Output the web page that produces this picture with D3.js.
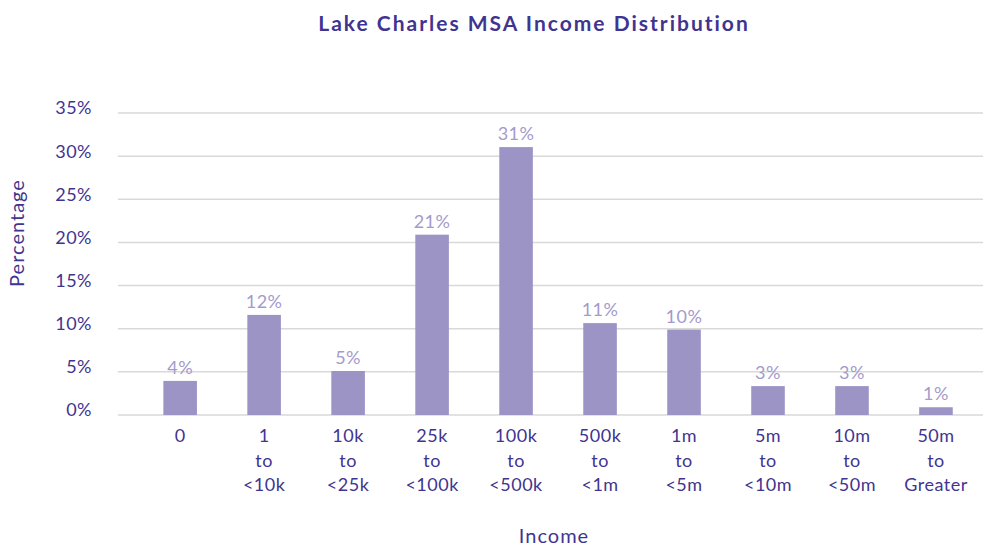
<!DOCTYPE html>
<html>
<head>
<meta charset="utf-8">
<script src="https://cdn.jsdelivr.net/npm/d3@7"></script>
<style>
  html, body { margin: 0; padding: 0; background: #fff; }
  svg { display: block; font-family: Lato, "Noto Sans", sans-serif; }
</style>
</head>
<body>
<svg id="chart" width="983" height="546"></svg>
<script>
const title = "Lake Charles MSA Income Distribution";
const categories = [
  ["0"],
  ["1", "to", "<10k"],
  ["10k", "to", "<25k"],
  ["25k", "to", "<100k"],
  ["100k", "to", "<500k"],
  ["500k", "to", "<1m"],
  ["1m", "to", "<5m"],
  ["5m", "to", "<10m"],
  ["10m", "to", "<50m"],
  ["50m", "to", "Greater"]
];
const values = [3.95, 11.6, 5.1, 20.9, 31.05, 10.65, 9.9, 3.35, 3.35, 0.9];
const dataLabels = ["4%", "12%", "5%", "21%", "31%", "11%", "10%", "3%", "3%", "1%"];
const yTicks = [0, 5, 10, 15, 20, 25, 30, 35];
const xTitle = "Income";
const yTitle = "Percentage";

const svg = d3.select("#chart");
const W = 983, H = 546;
const margin = {left: 118, right: 0, top: 113, bottom: 131};
const plotLeft = margin.left, plotRight = W - margin.right;
const plotTop = margin.top, plotBottom = H - margin.bottom;

const keys = categories.map(c => c.join(" "));
const x = d3.scaleBand()
  .domain(keys)
  .range([plotLeft, plotRight])
  .paddingInner(0.6)
  .paddingOuter(0.45)
  .align(0.6);

const y = d3.scaleLinear().domain([0, 35]).range([plotBottom, plotTop]);

const textColor = "#3f3590";
const barColor = "#9d94c6";
const labelColor = "#a49bcb";

// gridlines
svg.append("g")
  .selectAll("line")
  .data(yTicks)
  .join("line")
  .attr("x1", plotLeft).attr("x2", plotRight)
  .attr("y1", d => y(d)).attr("y2", d => y(d))
  .attr("stroke", "#d9d9d9").attr("stroke-width", 1.5);

// y axis labels
const yAxis = d3.axisLeft(y).tickValues(yTicks).tickFormat(d => d + "%").tickSize(0).tickPadding(26);
const gy = svg.append("g").attr("transform", `translate(${plotLeft},0)`).call(yAxis);
gy.select(".domain").remove();
gy.selectAll("text")
  .attr("fill", textColor)
  .attr("font-size", 18)
  .attr("letter-spacing", 0.5)
  .attr("font-family", "Lato, sans-serif")
  .attr("dy", "0.05em");

// bars
svg.append("g")
  .selectAll("rect")
  .data(values)
  .join("rect")
  .attr("x", (d, i) => x(keys[i]))
  .attr("width", x.bandwidth())
  .attr("y", d => y(d))
  .attr("height", d => y(0) - y(d))
  .attr("fill", barColor);

// data labels
svg.append("g")
  .selectAll("text")
  .data(values)
  .join("text")
  .attr("x", (d, i) => x(keys[i]) + x.bandwidth() / 2)
  .attr("y", d => y(d) - 7)
  .attr("text-anchor", "middle")
  .attr("fill", labelColor)
  .attr("font-size", 18)
  .attr("letter-spacing", 0.5)
  .text((d, i) => dataLabels[i]);

// x axis labels
const xl = svg.append("g")
  .selectAll("text")
  .data(categories)
  .join("text")
  .attr("x", (d, i) => x(keys[i]) + x.bandwidth() / 2)
  .attr("y", plotBottom + 27)
  .attr("text-anchor", "middle")
  .attr("fill", textColor)
  .attr("font-size", 18)
  .attr("letter-spacing", 0.5);
xl.each(function(d) {
  const t = d3.select(this);
  const xx = t.attr("x");
  d.forEach((line, j) => {
    t.append("tspan").attr("x", xx).attr("dy", j === 0 ? 0 : 24.5).text(line);
  });
});

// axis titles
svg.append("text")
  .attr("x", 554).attr("y", 543)
  .attr("text-anchor", "middle")
  .attr("fill", textColor)
  .attr("font-size", 20)
  .attr("letter-spacing", 1)
  .text(xTitle);

svg.append("text")
  .attr("transform", "translate(24,233) rotate(-90)")
  .attr("text-anchor", "middle")
  .attr("fill", textColor)
  .attr("font-size", 20)
  .attr("letter-spacing", 1)
  .text(yTitle);

// title
svg.append("text")
  .attr("x", 534).attr("y", 31)
  .attr("text-anchor", "middle")
  .attr("fill", textColor)
  .attr("font-size", 21)
  .attr("font-weight", "bold")
  .attr("letter-spacing", 2)
  .text(title);
</script>
</body>
</html>
